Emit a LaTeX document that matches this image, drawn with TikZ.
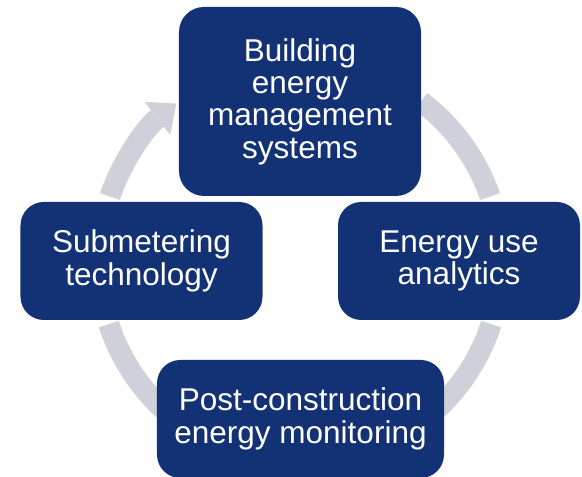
\documentclass[tikz,border=0pt]{standalone}
\usepackage{fontspec}
\setmainfont{Liberation Sans}
\usetikzlibrary{arrows.meta}

\definecolor{boxblue}{RGB}{18,50,117}
\definecolor{ringgrey}{RGB}{207,208,218}

\begin{document}
\begin{tikzpicture}[x=0.3mm,y=0.3mm,
  stage/.style={fill=boxblue, text=white, rounded corners=7mm, align=center,
    inner sep=0pt, minimum width=72.6mm, minimum height=35.4mm,
    font=\fontsize{26.9}{27.6}\selectfont},
  ring/.style={ringgrey, line width=6.3mm}]
\useasboundingbox (0,0) rectangle (582,477);
\coordinate (O) at (300,215);

% grey cycle behind the boxes, clockwise
\draw [ring, -{Triangle[length=7.2mm, width=12.6mm, line width=0pt]}]
  (O) ++(161:201) arc[start angle=161, end angle=128, radius=201];
\draw [ring] (O) ++(53:201) arc[start angle=53, end angle=19, radius=201];
\draw [ring] (O) ++(-18:201) arc[start angle=-18, end angle=-75, radius=201];
\draw [ring] (O) ++(-105:201) arc[start angle=-105, end angle=-162, radius=201];

\node [stage, minimum height=56.7mm, rounded corners=7.5mm] (bems) at (300,375.5)
  {Building\\energy\\management\\systems};
\node [stage] (meter) at (141.5,216) {Submetering\\technology};
\node [stage] (analytics) at (459,216) {Energy use\\analytics};
\node [stage, minimum width=86.1mm] (monitor) at (300.5,58)
  {Post-construction\\energy monitoring};
\end{tikzpicture}
\end{document}
